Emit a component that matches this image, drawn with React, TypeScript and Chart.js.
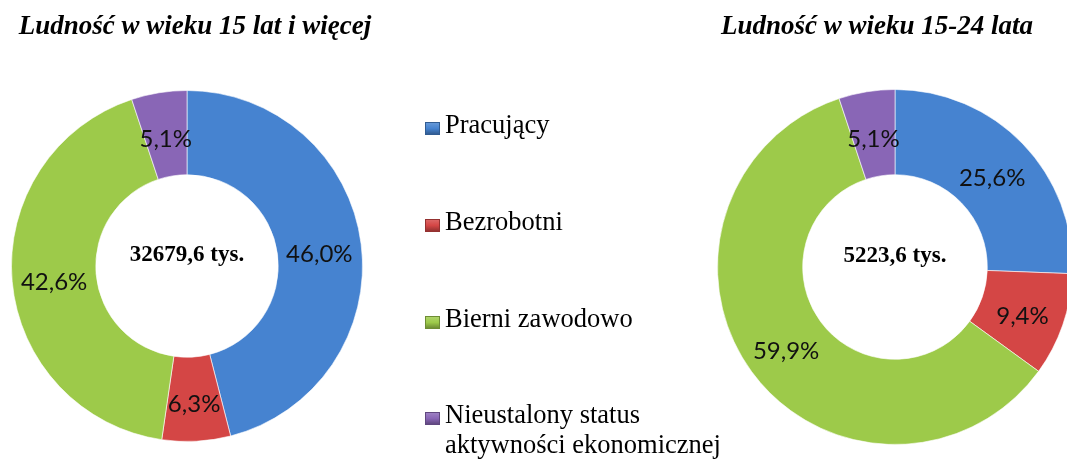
import React, { useEffect, useRef } from "react";
import { Chart, registerables } from "chart.js";

Chart.register(...registerables);

const categories = [
  "Pracujący",
  "Bezrobotni",
  "Bierni zawodowo",
  "Nieustalony status aktywności ekonomicznej",
];
const legendLines = [["Pracujący"], ["Bezrobotni"], ["Bierni zawodowo"], ["Nieustalony status", "aktywności ekonomicznej"]];
const leftValues = [46.0, 6.3, 42.6, 5.1];
const rightValues = [25.6, 9.4, 59.9, 5.1];
const leftTitle = "Ludność w wieku 15 lat i więcej";
const rightTitle = "Ludność w wieku 15-24 lata";
const leftTotal = "32679,6 tys.";
const rightTotal = "5223,6 tys.";
const colors = ["#4683d0", "#d44645", "#9dca4a", "#8966b6"];

function shade(hex: string, f: number): string {
  const n = parseInt(hex.slice(1), 16);
  let r = (n >> 16) & 255, g = (n >> 8) & 255, b = n & 255;
  if (f < 0) {
    r = Math.round(r * (1 + f)); g = Math.round(g * (1 + f)); b = Math.round(b * (1 + f));
  } else {
    r = Math.round(r + (255 - r) * f); g = Math.round(g + (255 - g) * f); b = Math.round(b + (255 - b) * f);
  }
  return `rgb(${r},${g},${b})`;
}

const labelPlugin = {
  id: "donutLabels",
  afterDatasetsDraw(chart: any) {
    const ctx = chart.ctx;
    const meta = chart.getDatasetMeta(0);
    const data = chart.data.datasets[0].data as number[];
    ctx.save();
    ctx.fillStyle = "#111";
    ctx.font = "24px Lato";
    ctx.textAlign = "center";
    ctx.textBaseline = "middle";
    meta.data.forEach((arc: any, i: number) => {
      const p = arc.tooltipPosition();
      ctx.fillText(data[i].toFixed(1).replace(".", ",") + "%", p.x, p.y + 5);
    });
    const c = meta.data[0];
    const total = chart.options.plugins.donutLabels.total;
    ctx.font = "bold 23px 'Liberation Serif'";
    ctx.fillStyle = "#000";
    ctx.fillText(total, c.x, c.y - 11);
    ctx.restore();
  },
};

function Donut({ values, total, left, top, size }: { values: number[]; total: string; left: number; top: number; size: number }) {
  const ref = useRef<HTMLCanvasElement>(null);
  useEffect(() => {
    if (!ref.current) return;
    const chart = new Chart(ref.current, {
      type: "doughnut",
      data: {
        labels: categories,
        datasets: [
          {
            data: values,
            backgroundColor: (c: any) => {
              const base = colors[c.dataIndex % colors.length];
              const ch = c.chart;
              const el = ch.getDatasetMeta(0).data[c.dataIndex] as any;
              if (!el || !el.outerRadius) return base;
              const g = ch.ctx.createRadialGradient(el.x, el.y, el.innerRadius, el.x, el.y, el.outerRadius);
              g.addColorStop(0, shade(base, -0.2));
              g.addColorStop(0.1, base);
              g.addColorStop(0.5, shade(base, 0.05));
              g.addColorStop(0.9, base);
              g.addColorStop(1, shade(base, -0.22));
              return g;
            },
            borderColor: "rgba(255,255,255,0.6)",
            borderWidth: 1,
          },
        ],
      },
      options: {
        responsive: false,
        maintainAspectRatio: false,
        animation: false,
        cutout: "52%",
        layout: { padding: 0 },
        plugins: {
          legend: { display: false },
          tooltip: { enabled: false },
          donutLabels: { total },
        } as any,
      },
      plugins: [labelPlugin],
    });
    return () => chart.destroy();
  }, []);
  return (
    <canvas
      ref={ref}
      width={size}
      height={size}
      style={{ position: "absolute", left, top, width: size, height: size }}
    />
  );
}

const legendBaselines = [133, 230, 327, 423];

function TextLayer() {
  const ref = useRef<HTMLCanvasElement>(null);
  useEffect(() => {
    const cv = ref.current;
    if (!cv) return;
    const ctx = cv.getContext("2d");
    if (!ctx) return;
    ctx.clearRect(0, 0, cv.width, cv.height);
    ctx.fillStyle = "#000";
    ctx.textBaseline = "alphabetic";
    ctx.textAlign = "center";
    ctx.font = "italic bold 27px 'Liberation Serif'";
    ctx.fillText(leftTitle, 195, 34);
    ctx.fillText(rightTitle, 877, 34);
    ctx.textAlign = "left";
    ctx.font = "26.5px 'Liberation Serif'";
    legendLines.forEach((lines, i) => {
      const base = legendBaselines[i];
      const x = 425, y = base - 11, w = 15, h = 13;
      const g = ctx.createLinearGradient(0, y, 0, y + h);
      g.addColorStop(0, shade(colors[i], 0.2));
      g.addColorStop(0.5, colors[i]);
      g.addColorStop(1, shade(colors[i], -0.35));
      ctx.fillStyle = g;
      ctx.fillRect(x, y, w, h);
      ctx.strokeStyle = shade(colors[i], -0.3);
      ctx.lineWidth = 1;
      ctx.strokeRect(x + 0.5, y + 0.5, w - 1, h - 1);
      ctx.fillStyle = "#000";
      lines.forEach((l, j) => ctx.fillText(l, 445, base + j * 30));
    });
  }, []);
  return (
    <canvas
      ref={ref}
      width={1067}
      height={459}
      style={{ position: "absolute", left: 0, top: 0, width: 1067, height: 459, pointerEvents: "none" }}
    />
  );
}

export default function App() {
  return (
    <div
      style={{
        position: "fixed",
        left: 0,
        top: 0,
        width: 1067,
        height: 459,
        background: "#fff",
        overflow: "hidden",
      }}
    >
      <Donut values={leftValues} total={leftTotal} left={11} top={90} size={352} />
      <Donut values={rightValues} total={rightTotal} left={717} top={89} size={356} />
      <TextLayer />
    </div>
  );
}
